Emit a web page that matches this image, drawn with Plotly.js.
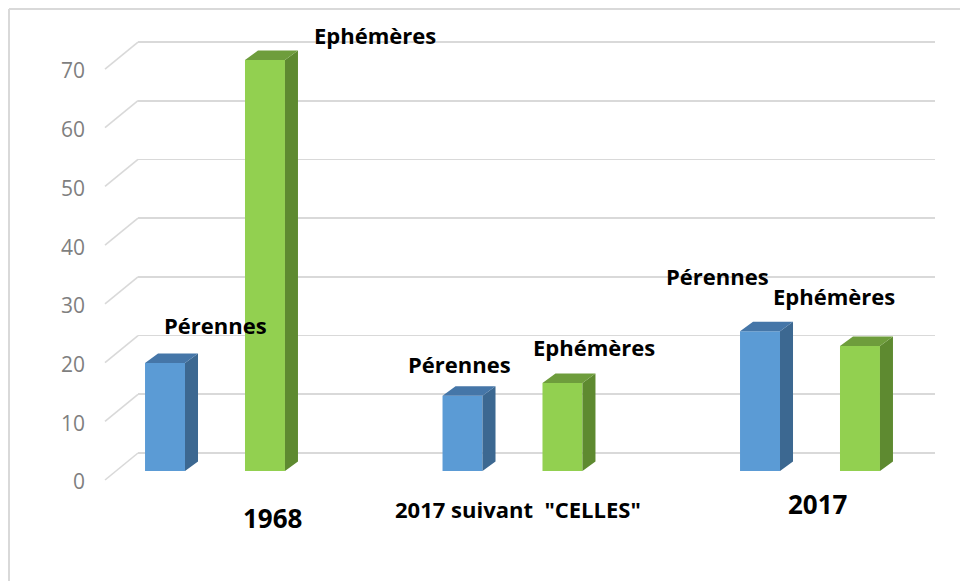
<!DOCTYPE html>
<html>
<head>
<meta charset="utf-8">
<script src="https://cdn.plot.ly/plotly-3.0.1.min.js"></script>
<style>html,body{margin:0;padding:0;background:#fff;}#chart{width:960px;height:581px;}</style>
</head>
<body>
<div id="chart"></div>
<script>
// ---- data ----
const categories = ['1968', '2017 suivant  "CELLES"', '2017'];
const seriesNames = ['Pérennes', 'Ephémères'];
const perennes = [18.4, 12.8, 23.8];
const ephemeres = [70, 15, 21.3];
const yTicks = [0, 10, 20, 30, 40, 50, 60, 70];

// ---- geometry / style ----
const W = 960, H = 581;
const PPU = 5.871;            // px per unit
const BASE_PX = 471;          // bar front base
const TOP_PX = 13.1;
const X0_PX = 215, XSTEP_PX = 297.5;
const XDOM_PX = [138, 935];
const BACK_RISE = 18, FRONT_DROP = 9, DIAG_DX = 33;
const DEPTH_DX = 13, DEPTH_DY = 9.5;
const bargap = 0.328, bargroupgap = 0.6;
const colors = {
  front: ['#5B9BD5', '#92D050'],
  side: ['#3C6891', '#5E8A30'],
  top: ['#4576A8', '#6E9D3C']
};
const labelShift = [ // [xshift, yshift] px for data labels per series per category
  [[50, 38], [-3, 32], [-43, 55]],
  [[110, 25], [32, 36], [-26, 50]]
];
const catLabelPos = [[272, 518, 26], [518, 509, 22], [818, 504, 26]];

const yUnits = (BASE_PX - TOP_PX) / PPU;
const xRange = [(XDOM_PX[0] - X0_PX) / XSTEP_PX, (XDOM_PX[1] - X0_PX) / XSTEP_PX];
const px2paperX = px => px / W;
const px2paperY = py => (H - py) / H;
const xIdx = categories.map((c, i) => i);
const series = [perennes, ephemeres];

const slot = (1 - bargap) / 2;
const centerOff = [-slot / 2, slot / 2];
const halfW = slot * (1 - bargroupgap) / 2;
const dxU = DEPTH_DX / XSTEP_PX, dyU = DEPTH_DY / PPU;

const traces = [];
// empty trace so that the base (gridline) axis subplot exists
traces.push({type: 'scatter', mode: 'lines', x: [], y: [], xaxis: 'x', yaxis: 'y', hoverinfo: 'skip', showlegend: false});
series.forEach((vals, s) => {
  traces.push({
    type: 'bar', name: seriesNames[s], x: xIdx, y: vals,
    xaxis: 'x', yaxis: 'y2',
    marker: {color: colors.front[s], line: {width: 0}},
    hoverinfo: 'y+name', showlegend: false
  });
});
series.forEach((vals, s) => {
  const sx = [], sy = [], tx = [], ty = [];
  vals.forEach((v, i) => {
    const c = xIdx[i] + centerOff[s];
    const xl = c - halfW, xr = c + halfW;
    sx.push(xr, xr + dxU, xr + dxU, xr, xr, null);
    sy.push(0, dyU, v + dyU, v, 0, null);
    tx.push(xl, xr, xr + dxU, xl + dxU, xl, null);
    ty.push(v, v, v + dyU, v + dyU, v, null);
  });
  traces.push({type: 'scatter', mode: 'lines', x: sx, y: sy, xaxis: 'x', yaxis: 'y2',
    fill: 'toself', fillcolor: colors.side[s], line: {width: 0}, hoverinfo: 'skip', showlegend: false});
  traces.push({type: 'scatter', mode: 'lines', x: tx, y: ty, xaxis: 'x', yaxis: 'y2',
    fill: 'toself', fillcolor: colors.top[s], line: {width: 0}, hoverinfo: 'skip', showlegend: false});
});

const shapes = [];
// chart border (top and left)
shapes.push({type: 'line', xref: 'paper', yref: 'paper', x0: px2paperX(9), x1: 1, y0: px2paperY(9), y1: px2paperY(9), line: {color: '#D9D9D9', width: 2}});
shapes.push({type: 'line', xref: 'paper', yref: 'paper', x0: px2paperX(9), x1: px2paperX(9), y0: 0, y1: px2paperY(9), line: {color: '#D9D9D9', width: 2}});
// side-wall diagonals of gridlines
yTicks.forEach(v => {
  const back = BASE_PX - BACK_RISE - v * PPU;
  shapes.push({type: 'line', xref: 'paper', yref: 'paper', layer: 'below',
    x0: px2paperX(XDOM_PX[0] - DIAG_DX), y0: px2paperY(back + BACK_RISE + FRONT_DROP),
    x1: px2paperX(XDOM_PX[0]), y1: px2paperY(back),
    line: {color: '#D9D9D9', width: 1.6}});
});

const annotations = [];
series.forEach((vals, s) => {
  vals.forEach((v, i) => {
    annotations.push({xref: 'x', yref: 'y2', x: xIdx[i] + centerOff[s], y: v,
      xshift: labelShift[s][i][0], yshift: labelShift[s][i][1],
      text: seriesNames[s], showarrow: false, xanchor: 'center', yanchor: 'middle',
      font: {family: 'Open Sans', size: 22, color: '#000', weight: 'bold'}});
  });
});
categories.forEach((c, i) => {
  annotations.push({xref: 'x', yref: 'paper',
    x: xIdx[i] + (catLabelPos[i][0] - (X0_PX + i * XSTEP_PX)) / XSTEP_PX,
    y: px2paperY(catLabelPos[i][1]),
    text: c, showarrow: false, xanchor: 'center', yanchor: 'middle',
    font: {family: 'Open Sans', size: catLabelPos[i][2], color: '#000', weight: 'bold'}});
});

const layout = {
  width: W, height: H,
  margin: {l: 0, r: 0, t: 0, b: 0},
  paper_bgcolor: '#fff', plot_bgcolor: 'rgba(0,0,0,0)',
  barmode: 'group', bargap: bargap, bargroupgap: bargroupgap,
  showlegend: false,
  xaxis: {domain: [XDOM_PX[0] / W, XDOM_PX[1] / W], range: xRange, type: 'linear',
    showgrid: false, zeroline: false, showticklabels: false, showline: false, anchor: 'y', fixedrange: true},
  yaxis: {domain: [px2paperY(BASE_PX), px2paperY(TOP_PX)],
    range: [-BACK_RISE / PPU, yUnits - BACK_RISE / PPU],
    anchor: 'free', position: 87 / W,
    tickmode: 'array', tickvals: yTicks, ticktext: yTicks.map(String),
    ticks: '', showline: false, zeroline: false,
    showgrid: true, gridcolor: '#D9D9D9', gridwidth: 1.6,
    ticklabelshift: (BACK_RISE + FRONT_DROP + 2), ticklabelstandoff: 2,
    tickfont: {family: 'Open Sans', size: 21, color: '#7F7F7F'}, fixedrange: true},
  yaxis2: {overlaying: 'y', anchor: 'x', range: [0, yUnits], showgrid: false, zeroline: false,
    showticklabels: false, showline: false, fixedrange: true},
  shapes: shapes,
  annotations: annotations
};

Plotly.newPlot('chart', traces, layout, {displayModeBar: false, staticPlot: true});
</script>
</body>
</html>
